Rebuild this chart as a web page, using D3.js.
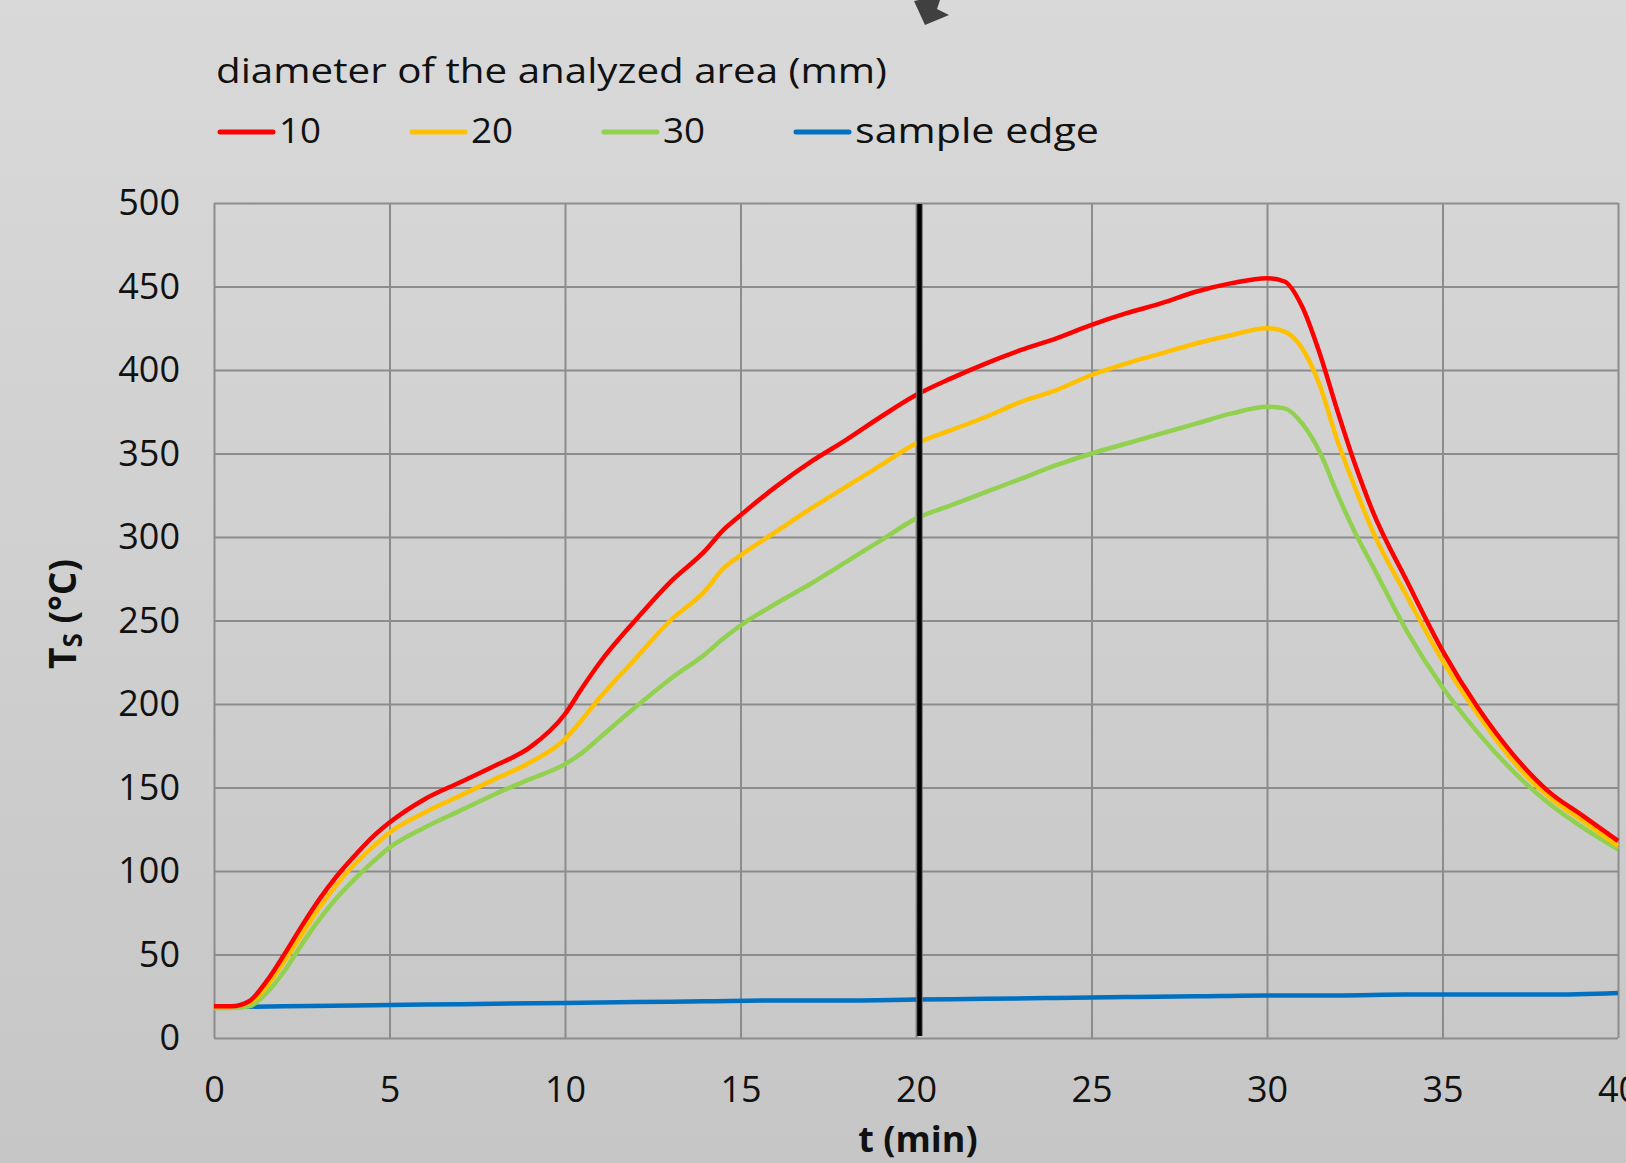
<!DOCTYPE html>
<html>
<head>
<meta charset="utf-8">
<script src="https://cdn.jsdelivr.net/npm/d3@7"></script>
<style>
  body { margin: 0; background: #d0d0d0; }
  svg { display: block; font-family: "Open Sans", sans-serif; }
</style>
</head>
<body>
<svg id="ts_chart" width="1626" height="1163"></svg>
<script>

// time (min) shared by the three area curves
var t_min = [0, 0.5, 1, 1.5, 2, 2.5, 3, 3.5, 4, 4.5,
             5, 6, 7, 8, 9,
             10, 10.5, 11, 12, 13,
             14, 14.5, 15, 16, 17,
             18, 19, 20, 21, 22,
             23, 24, 25, 26, 27,
             28, 29, 30, 30.5, 31,
             31.5, 32, 32.5, 33, 34,
             35, 36, 37, 38, 39,
             40];

// Ts (degC) for 10 / 20 / 30 mm analyzed area
var ts_10 = [19, 19, 22, 34, 50, 67, 83, 97, 109, 120,
             129, 143, 153, 163, 174,
             194, 210, 225, 250, 273,
             292, 304, 313, 330, 345,
             358, 372, 385, 395, 404,
             412, 419, 427, 434, 440,
             447, 452, 455, 453, 438,
             410, 376, 344, 316, 273,
             232, 198, 170, 148, 133,
             118];

var ts_20 = [19, 19, 21, 31, 46, 62, 78, 92, 104, 114,
             123, 135, 145, 155, 165,
             179, 191, 204, 227, 250,
             268, 281, 289, 303, 317,
             330, 343, 356, 364, 372,
             381, 388, 397, 404, 410,
             416, 421, 425, 423, 413,
             391, 358, 330, 304, 264,
             226, 194, 166, 145, 130,
             115];

var ts_30 = [18, 18, 19, 27, 40, 56, 71, 84, 95, 105,
             114, 126, 136, 146, 155,
             164, 171, 180, 198, 215,
             230, 239, 247, 260, 272,
             285, 298, 311, 319, 327,
             335, 343, 350, 356, 362,
             368, 374, 378, 377, 368,
             351, 326, 303, 283, 243,
             210, 183, 160, 141, 126,
             113];

// sample edge
var edge_t  = [0, 2, 4, 6, 8, 10, 12, 14, 16, 18, 20, 22, 24, 26, 28, 30, 32, 34, 36, 38, 40];
var edge_ts = [18.5, 19, 19.5, 20, 20.5, 21, 21.5, 22, 22.5, 22.5, 23, 23.5, 24, 24.5, 25, 25.5, 25.5, 26, 26, 26, 27];

// vertical marker
var marker_t = 20.1;

var legend_title = "diameter of the analyzed area (mm)";
var series_names  = ["10", "20", "30", "sample edge"];
var series_colors = ["#ff0000", "#ffc000", "#92d050", "#0070c0"];

var x_ticks = [0, 5, 10, 15, 20, 25, 30, 35, 40];
var y_ticks = [0, 50, 100, 150, 200, 250, 300, 350, 400, 450, 500];


 // margins
 var margin = {top: 203, right: 8, bottom: 125, left: 214};
 var width = 1626 - margin.left - margin.right;
 var height = 1163 - margin.top - margin.bottom;

 var svg = d3.select("#ts_chart");

 // background gradient
 var defs = svg.append("defs");
 var grad = defs.append("linearGradient")
    .attr("id", "bg_grad")
    .attr("x1", 0).attr("y1", 0).attr("x2", 0).attr("y2", 1);
 grad.append("stop").attr("offset", "0%").attr("stop-color", "#d9d9d9");
 grad.append("stop").attr("offset", "100%").attr("stop-color", "#c6c6c6");

 svg.append("rect")
    .attr("width", 1626).attr("height", 1163)
    .attr("fill", "url(#bg_grad)");

 // the arrow poking in from the top
 svg.append("path")
    .attr("d", "M914,1 L919,0 L940,0 L937,9 L949,15 L925,25 Z")
    .attr("fill", "#404040");

 var g = svg.append("g")
    .attr("transform", "translate(" + margin.left + "," + margin.top + ")");

 var x = d3.scaleLinear().domain([0, 40]).range([0, width]);
 var y = d3.scaleLinear().domain([0, 500]).range([height, 0]);

// grid
 g.append("g")
    .attr("class", "grid grid--x")
    .attr("transform", "translate(0," + height + ")")
    .call(d3.axisBottom(x).tickValues(x_ticks).tickSize(-height).tickFormat(""))
    .call(function(s) {
       s.select(".domain").remove();
       s.selectAll("line").attr("stroke", "#8c8c8c").attr("stroke-width", 2);
    });

 g.append("g")
    .attr("class", "grid grid--y")
    .call(d3.axisLeft(y).tickValues(y_ticks).tickSize(-width).tickFormat(""))
    .call(function(s) {
       s.select(".domain").remove();
       s.selectAll("line").attr("stroke", "#8c8c8c").attr("stroke-width", 2);
    });

// tick labels
 g.append("g")
    .attr("class", "axis axis--x")
    .attr("transform", "translate(0," + height + ")")
    .call(d3.axisBottom(x).tickValues(x_ticks).tickSize(0).tickPadding(38))
    .call(function(s) {
       s.select(".domain").remove();
       s.selectAll("text")
         .attr("font-family", "Open Sans, sans-serif")
         .attr("font-size", 36).attr("fill", "#111");
    });

 g.append("g")
    .attr("class", "axis axis--y")
    .call(d3.axisLeft(y).tickValues(y_ticks).tickSize(0).tickPadding(34))
    .call(function(s) {
       s.select(".domain").remove();
       s.selectAll("text")
         .attr("font-family", "Open Sans, sans-serif")
         .attr("font-size", 36).attr("fill", "#111");
    });

// the lines
 var valueline = d3.line()
    .curve(d3.curveMonotoneX)
    .x(function(d) { return x(d[0]); })
    .y(function(d) { return y(d[1]); });

 var series = [
    d3.zip(edge_t, edge_ts),
    d3.zip(t_min, ts_30),
    d3.zip(t_min, ts_20),
    d3.zip(t_min, ts_10)
 ];
 var series_col = [series_colors[3], series_colors[2], series_colors[1], series_colors[0]];

 series.forEach(function(s, i) {
    g.append("path")
       .datum(s)
       .attr("class", "line")
       .attr("fill", "none")
       .attr("stroke", series_col[i])
       .attr("stroke-width", 4.5)
       .attr("stroke-linejoin", "round")
       .attr("d", valueline);
 });

// vertical marker line
 g.append("line")
    .attr("x1", x(marker_t)).attr("x2", x(marker_t))
    .attr("y1", y(500) + 1).attr("y2", y(0) - 2)
    .attr("stroke", "#6e6e6e").attr("stroke-width", 6.5);
 g.append("line")
    .attr("x1", x(marker_t)).attr("x2", x(marker_t))
    .attr("y1", y(500) + 1).attr("y2", y(0) - 2)
    .attr("stroke", "#000").attr("stroke-width", 4.5);

// axis titles
 svg.append("text")
    .attr("x", margin.left + width / 2 + 2)
    .attr("y", 1152)
    .attr("text-anchor", "middle")
    .attr("font-size", 36).attr("font-weight", "bold").attr("fill", "#111")
    .text("t (min)");

 var ytitle = svg.append("text")
    .attr("transform", "translate(76,614) rotate(-90)")
    .attr("text-anchor", "middle")
    .attr("font-size", 37).attr("font-weight", "bold").attr("fill", "#111");
 ytitle.append("tspan").text("T");
 ytitle.append("tspan").attr("font-size", 26).attr("dy", 6).text("S");
 ytitle.append("tspan").attr("dy", -6).text(" (°C)");

// legend
 svg.append("text")
    .attr("x", 216).attr("y", 83)
    .attr("font-size", 34).attr("fill", "#111")
    .attr("textLength", 671).attr("lengthAdjust", "spacingAndGlyphs")
    .text(legend_title);

 var leg_x = [220, 412, 604, 796];
 var leg_w = [42, 42, 42, 244];
 series_names.forEach(function(name, i) {
    svg.append("line")
       .attr("x1", leg_x[i]).attr("x2", leg_x[i] + 53)
       .attr("y1", 132).attr("y2", 132)
       .attr("stroke", series_colors[i]).attr("stroke-width", 5)
       .attr("stroke-linecap", "round");
    svg.append("text")
       .attr("x", leg_x[i] + 59).attr("y", 143)
       .attr("font-size", 35).attr("fill", "#111")
       .attr("textLength", leg_w[i]).attr("lengthAdjust", "spacingAndGlyphs")
       .text(name);
 });

</script>
</body>
</html>
